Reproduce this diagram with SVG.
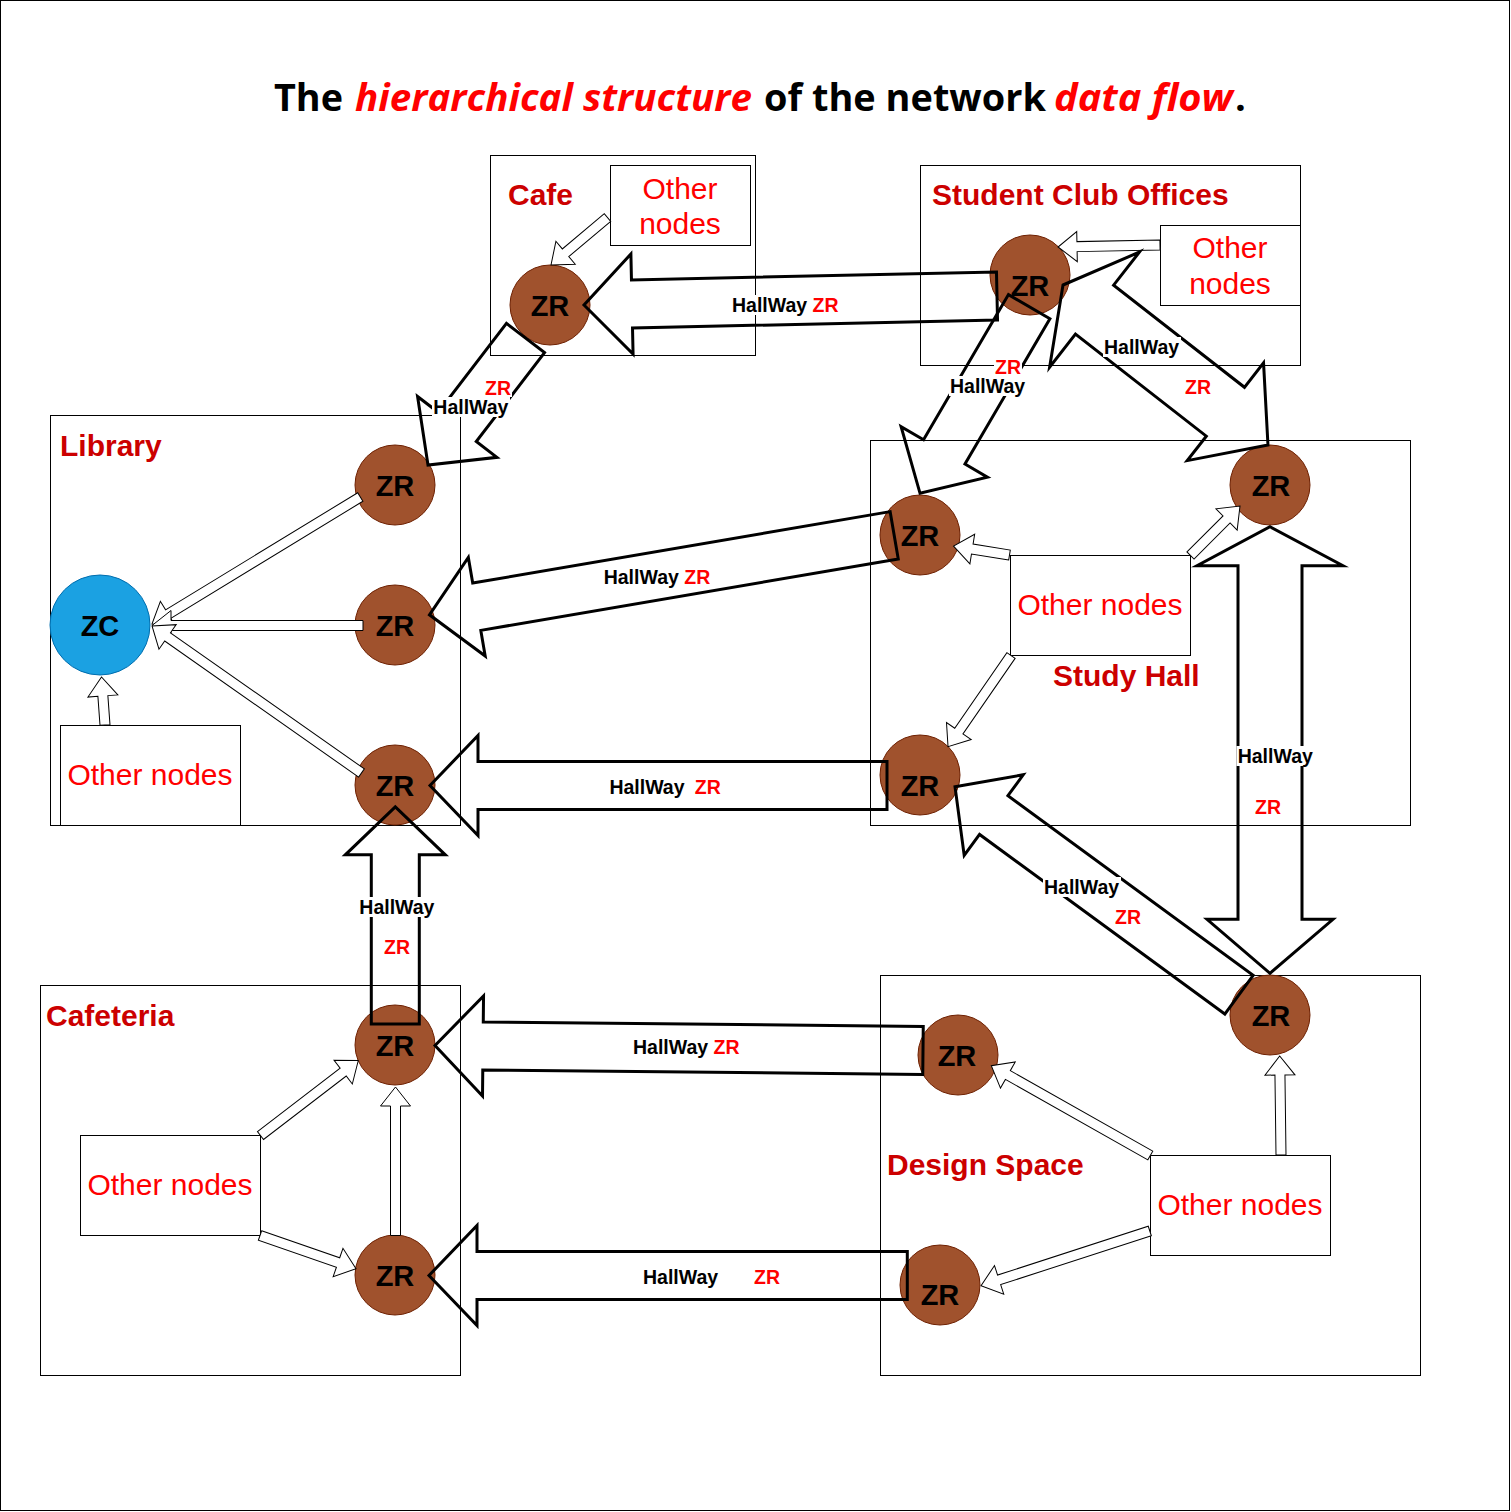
<svg xmlns="http://www.w3.org/2000/svg" width="1511" height="1512" viewBox="0 0 1511 1512">
<style>
.frame{fill:#fff;stroke:#000;stroke-width:1}
.box{fill:#fff;stroke:#000;stroke-width:1}
.zr{fill:#A0522D;stroke:#6D1F00;stroke-width:1}
.zc{fill:#1BA1E2;stroke:#006EAF;stroke-width:1}
.region{font-family:"Liberation Sans",Arial,sans-serif;font-weight:bold;font-size:30px;fill:#CC0000}
.other{font-family:"Liberation Sans",Arial,sans-serif;font-size:30px;fill:#FF0000;text-anchor:middle}
.zrt{font-family:"Liberation Sans",Arial,sans-serif;font-weight:bold;font-size:29px;fill:#000;text-anchor:middle}
.big{fill:none;stroke:#000;stroke-width:3;stroke-linejoin:miter;stroke-miterlimit:10}
.thin{fill:#fff;stroke:#000;stroke-width:1;stroke-linejoin:miter}
.lbl{font-family:"Liberation Sans",Arial,sans-serif;font-weight:bold;font-size:19.5px;fill:#000}
.red{fill:#FF0000}
.lbg{fill:#fff;stroke:none}
.title{font-family:"Open Sans","Liberation Sans",sans-serif;font-weight:bold;font-size:38px}
</style>
<rect class="frame" x="0.5" y="0.5" width="1509" height="1510"/>
<g id="title">
<text class="title" x="274" y="111" textLength="69" lengthAdjust="spacingAndGlyphs" fill="#000">The</text>
<text class="title" x="355" y="111" textLength="397" lengthAdjust="spacingAndGlyphs" fill="#FF0000" font-style="italic">hierarchical structure</text>
<text class="title" x="764" y="111" textLength="282" lengthAdjust="spacingAndGlyphs" fill="#000">of the network</text>
<text class="title" x="1054" y="111" textLength="179" lengthAdjust="spacingAndGlyphs" fill="#FF0000" font-style="italic">data flow</text>
<text class="title" x="1235" y="111" fill="#000">.</text>
</g>
<!-- containers -->
<g id="cafe"><rect class="box" x="490.5" y="155.5" width="265" height="200"/><text class="region" x="508" y="205">Cafe</text></g>
<g id="student-club-offices"><rect class="box" x="920.5" y="165.5" width="380" height="200"/><text class="region" x="932" y="205">Student Club Offices</text></g>
<g id="library"><rect class="box" x="50.5" y="415.5" width="410" height="410"/><text class="region" x="60" y="456">Library</text></g>
<g id="study-hall"><rect class="box" x="870.5" y="440.5" width="540" height="385"/><text class="region" x="1053" y="686">Study Hall</text></g>
<g id="cafeteria"><rect class="box" x="40.5" y="985.5" width="420" height="390"/><text class="region" x="46" y="1026">Cafeteria</text></g>
<g id="design-space"><rect class="box" x="880.5" y="975.5" width="540" height="400"/><text class="region" x="887" y="1175">Design Space</text></g>
<!-- other nodes boxes -->
<g id="cafe-other"><rect class="box" x="610.5" y="165.5" width="140" height="80"/><text class="other" x="680" y="198.5">Other</text><text class="other" x="680" y="233.5">nodes</text></g>
<g id="sco-other"><rect class="box" x="1160.5" y="225.5" width="140" height="80"/><text class="other" x="1230" y="257.5">Other</text><text class="other" x="1230" y="293.5">nodes</text></g>
<g id="library-other"><rect class="box" x="60.5" y="725.5" width="180" height="100"/><text class="other" x="150" y="785">Other nodes</text></g>
<g id="study-other"><rect class="box" x="1010.5" y="555.5" width="180" height="100"/><text class="other" x="1100" y="615">Other nodes</text></g>
<g id="cafeteria-other"><rect class="box" x="80.5" y="1135.5" width="180" height="100"/><text class="other" x="170" y="1195">Other nodes</text></g>
<g id="design-other"><rect class="box" x="1150.5" y="1155.5" width="180" height="100"/><text class="other" x="1240" y="1215">Other nodes</text></g>
<!-- router / coordinator nodes -->
<g id="zc-library"><circle class="zc" cx="100" cy="625" r="50"/><text class="zrt" x="100" y="635.5">ZC</text></g>
<g id="zr-cafe"><circle class="zr" cx="550" cy="305" r="40"/><text class="zrt" x="550" y="315.5">ZR</text></g>
<g id="zr-sco"><circle class="zr" cx="1030" cy="275" r="40"/><text class="zrt" x="1030" y="295.5">ZR</text></g>
<g id="zr-lib-top"><circle class="zr" cx="395" cy="485" r="40"/><text class="zrt" x="395" y="495.5">ZR</text></g>
<g id="zr-lib-mid"><circle class="zr" cx="395" cy="625" r="40"/><text class="zrt" x="395" y="635.5">ZR</text></g>
<g id="zr-lib-bot"><circle class="zr" cx="395" cy="785" r="40"/><text class="zrt" x="395" y="795.5">ZR</text></g>
<g id="zr-study-tl"><circle class="zr" cx="920" cy="535" r="40"/><text class="zrt" x="920" y="545.5">ZR</text></g>
<g id="zr-study-tr"><circle class="zr" cx="1270" cy="485" r="40"/><text class="zrt" x="1271" y="495.5">ZR</text></g>
<g id="zr-study-bl"><circle class="zr" cx="920" cy="775" r="40"/><text class="zrt" x="920" y="795.5">ZR</text></g>
<g id="zr-design-tr"><circle class="zr" cx="1270" cy="1015" r="40"/><text class="zrt" x="1271" y="1025.5">ZR</text></g>
<g id="zr-design-ul"><circle class="zr" cx="958" cy="1055" r="40"/><text class="zrt" x="957" y="1065.5">ZR</text></g>
<g id="zr-design-ll"><circle class="zr" cx="940" cy="1285" r="40"/><text class="zrt" x="940" y="1305">ZR</text></g>
<g id="zr-cafeteria-top"><circle class="zr" cx="395" cy="1045" r="40"/><text class="zrt" x="395" y="1056">ZR</text></g>
<g id="zr-cafeteria-bot"><circle class="zr" cx="395" cy="1275" r="40"/><text class="zrt" x="395" y="1285.5">ZR</text></g>
<!-- connectors -->
<g id="connectors">
<!-- thin hollow arrows -->
<polygon class="thin" transform="translate(607.5,217.5) rotate(139.94)" points="0,-5 54.8,-5 54.8,-15 73.8,0 54.8,15 54.8,5 0,5"/>
<polygon class="thin" transform="translate(1160,245) rotate(178.88)" points="0,-5 83,-5 83,-15 102,0 83,15 83,5 0,5"/>
<polygon class="thin" transform="translate(360.3,497) rotate(148.63)" points="0,-5 225,-5 225,-15 244,0 225,15 225,5 0,5"/>
<polygon class="thin" transform="translate(363,625.5) rotate(180)" points="0,-5 192,-5 192,-15 211,0 192,15 192,5 0,5"/>
<polygon class="thin" transform="translate(361.5,773) rotate(-144.94)" points="0,-5 236.9,-5 236.9,-15 255.9,0 236.9,15 236.9,5 0,5"/>
<polygon class="thin" transform="translate(105,725) rotate(-94.17)" points="0,-5 29.1,-5 29.1,-15 48.1,0 29.1,15 29.1,5 0,5"/>
<polygon class="thin" transform="translate(1009.5,555) rotate(-170.87)" points="0,-5 37.7,-5 37.7,-15 56.7,0 37.7,15 37.7,5 0,5"/>
<polygon class="thin" transform="translate(1190.5,555.5) rotate(-45)" points="0,-5 51,-5 51,-15 70,0 51,15 51,5 0,5"/>
<polygon class="thin" transform="translate(1011,655.5) rotate(124.63)" points="0,-5 91.8,-5 91.8,-15 110.8,0 91.8,15 91.8,5 0,5"/>
<polygon class="thin" transform="translate(260.5,1135.5) rotate(-37.48)" points="0,-5 104.2,-5 104.2,-15 123.2,0 104.2,15 104.2,5 0,5"/>
<polygon class="thin" transform="translate(260,1235.5) rotate(19.08)" points="0,-5 82.6,-5 82.6,-15 101.6,0 82.6,15 82.6,5 0,5"/>
<polygon class="thin" transform="translate(395.5,1235.5) rotate(-90)" points="0,-5 129.5,-5 129.5,-15 148.5,0 129.5,15 129.5,5 0,5"/>
<polygon class="thin" transform="translate(1150.3,1155.5) rotate(-150.54)" points="0,-5 163.6,-5 163.6,-15 182.6,0 163.6,15 163.6,5 0,5"/>
<polygon class="thin" transform="translate(1149.8,1231) rotate(162.04)" points="0,-5 158.4,-5 158.4,-15 177.4,0 158.4,15 158.4,5 0,5"/>
<polygon class="thin" transform="translate(1281,1155) rotate(-90.75)" points="0,-5 80,-5 80,-15 99,0 80,15 80,5 0,5"/>
<!-- big hallway arrows -->
<polygon class="big" transform="translate(997,296) rotate(178.75)" points="0,-24 365.1,-24 365.1,-50 413.1,0 365.1,50 365.1,24 0,24"/>
<polygon class="big" transform="translate(525.5,338) rotate(127.52)" points="0,-24 112.1,-24 112.1,-50 160.1,0 112.1,50 112.1,24 0,24"/>
<polygon class="big" transform="translate(1029.2,306.7) rotate(120.33)" points="0,-24 168.2,-24 168.2,-50 216.2,0 168.2,50 168.2,24 0,24"/>
<polygon class="big" transform="translate(1063,285) rotate(37.97)" points="0,0 40,-73 40,-31 206,-31 206,-62 260,0 206,62 206,31 40,31 40,73"/>
<polygon class="big" transform="translate(894.2,535.3) rotate(170.29)" points="0,-24 423.5,-24 423.5,-50 471.5,0 423.5,50 423.5,24 0,24"/>
<polygon class="big" transform="translate(887,785.5) rotate(180)" points="0,-24 409,-24 409,-50 457,0 409,50 409,24 0,24"/>
<polygon class="big" transform="translate(1239,994.7) rotate(-143.78)" points="0,-24 304,-24 304,-50 352,0 304,50 304,24 0,24"/>
<polygon class="big" transform="translate(1270,526.7) rotate(90)" points="0,0 39,-73 39,-32 392.6,-32 392.6,-63 446.6,0 392.6,63 392.6,32 39,32 39,73"/>
<polygon class="big" transform="translate(395.3,1024) rotate(-90)" points="0,-24 169.2,-24 169.2,-50 217.2,0 169.2,50 169.2,24 0,24"/>
<polygon class="big" transform="translate(923,1050.5) rotate(-179.41)" points="0,-24 440,-24 440,-50 488,0 440,50 440,24 0,24"/>
<polygon class="big" transform="translate(907.3,1275.5) rotate(180)" points="0,-24 430.3,-24 430.3,-50 478.3,0 430.3,50 430.3,24 0,24"/>
<!-- labels -->
<rect class="lbg" x="730" y="295" width="112" height="20"/>
<text class="lbl" x="732" y="312">HallWay <tspan class="red">ZR</tspan></text>
<rect class="lbg" x="484" y="378" width="28" height="19"/>
<text class="lbl red" x="485" y="394.5">ZR</text>
<rect class="lbg" x="432" y="397" width="78" height="20"/>
<text class="lbl" x="433.3" y="413.5">HallWay</text>
<rect class="lbg" x="994" y="357" width="28" height="19"/>
<text class="lbl red" x="995" y="373.5">ZR</text>
<rect class="lbg" x="949" y="376" width="78" height="20"/>
<text class="lbl" x="950" y="393">HallWay</text>
<rect class="lbg" x="1103" y="337" width="78" height="20"/>
<text class="lbl" x="1104" y="354">HallWay</text>
<rect class="lbg" x="1184" y="377" width="28" height="19"/>
<text class="lbl red" x="1185" y="394">ZR</text>
<rect class="lbg" x="602" y="567" width="112" height="20"/>
<text class="lbl" x="603.7" y="584">HallWay <tspan class="red">ZR</tspan></text>
<rect class="lbg" x="608" y="777" width="114" height="20"/>
<text class="lbl" x="609.4" y="794">HallWay</text>
<text class="lbl red" x="694.8" y="794">ZR</text>
<rect class="lbg" x="1043" y="877" width="78" height="20"/>
<text class="lbl" x="1044" y="893.5">HallWay</text>
<rect class="lbg" x="1114" y="907" width="28" height="19"/>
<text class="lbl red" x="1115" y="923.5">ZR</text>
<rect class="lbg" x="1236.5" y="746" width="78" height="20"/>
<text class="lbl" x="1237.7" y="763">HallWay</text>
<rect class="lbg" x="1254" y="797" width="28" height="19"/>
<text class="lbl red" x="1255" y="813.5">ZR</text>
<rect class="lbg" x="358" y="897" width="78" height="20"/>
<text class="lbl" x="359.3" y="914">HallWay</text>
<rect class="lbg" x="383" y="937" width="28" height="19"/>
<text class="lbl red" x="384" y="953.5">ZR</text>
<rect class="lbg" x="631" y="1037" width="112" height="20"/>
<text class="lbl" x="633" y="1054">HallWay <tspan class="red">ZR</tspan></text>
<rect class="lbg" x="641" y="1267" width="141" height="20"/>
<text class="lbl" x="643" y="1284">HallWay</text>
<text class="lbl red" x="754" y="1284">ZR</text>
</g>
</svg>
